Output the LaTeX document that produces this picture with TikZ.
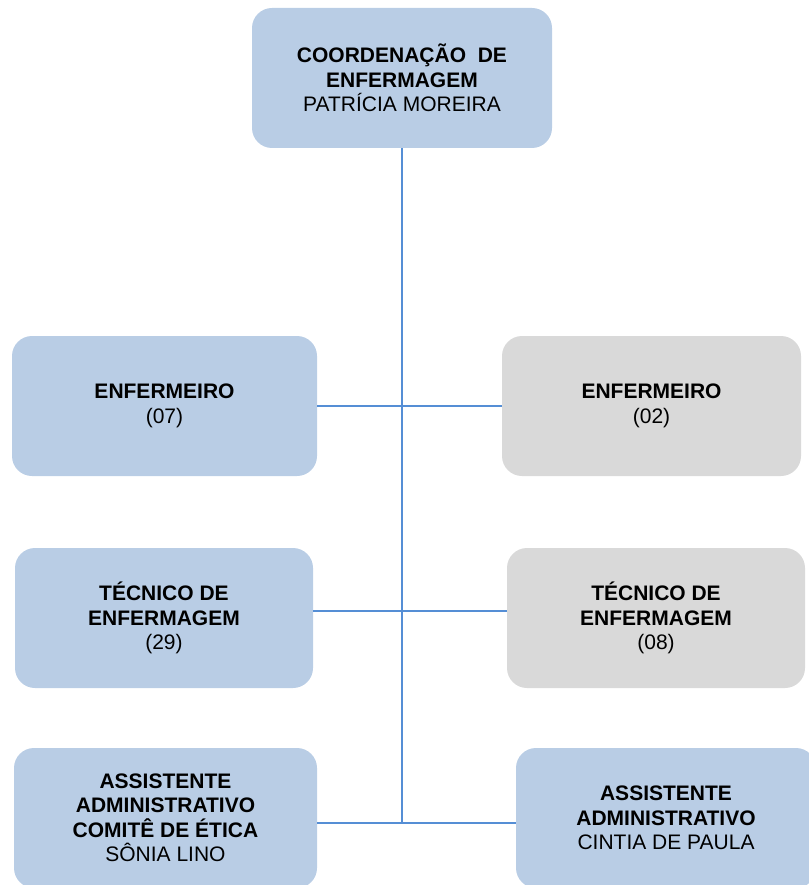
\documentclass[tikz,border=0pt]{standalone}
\usepackage{fontspec}
\setmainfont{Liberation Sans}
\definecolor{boxblue}{HTML}{B9CDE5}
\definecolor{boxgray}{HTML}{D9D9D9}
\definecolor{linkblue}{HTML}{558ED5}
\begin{document}
\begin{tikzpicture}[x=1pt,y=-1pt,
  orgbox/.style={rectangle, rounded corners=20pt, inner sep=0pt, align=center,
    minimum height=140pt, font=\fontsize{21}{24.5}\selectfont},
  bluebox/.style={orgbox, fill=boxblue},
  graybox/.style={orgbox, fill=boxgray},
  link/.style={draw=linkblue, line width=2pt}]
\useasboundingbox (0,0) rectangle (808,885);
\node[bluebox, minimum width=300pt] (top) at (402,78)
  {\textbf{COORDENAÇÃO\ \ DE}\\\textbf{ENFERMAGEM}\\PATRÍCIA MOREIRA};
\node[bluebox, minimum width=305pt] (l1) at (164.5,406) {\textbf{ENFERMEIRO}\\(07)};
\node[graybox, minimum width=299pt] (r1) at (651.5,406) {\textbf{ENFERMEIRO}\\(02)};
\node[bluebox, minimum width=298pt] (l2) at (164,618) {\textbf{TÉCNICO DE}\\\textbf{ENFERMAGEM}\\(29)};
\node[graybox, minimum width=298pt] (r2) at (656,618) {\textbf{TÉCNICO DE}\\\textbf{ENFERMAGEM}\\(08)};
\node[bluebox, minimum width=303pt] (l3) at (165.5,818)
  {\textbf{ASSISTENTE}\\\textbf{ADMINISTRATIVO}\\\textbf{COMITÊ DE ÉTICA}\\SÔNIA LINO};
\node[bluebox, minimum width=300pt] (r3) at (666,818)
  {\textbf{ASSISTENTE}\\\textbf{ADMINISTRATIVO}\\CINTIA DE PAULA};
\coordinate (j2) at (402,611);
\coordinate (j3) at (402,823);
\draw[link] (top.south) -- (j3);
\draw[link] (l1.east) -- (r1.west);
\draw[link] (l2.east |- j2) -- (r2.west |- j2);
\draw[link] (l3.east |- j3) -- (r3.west |- j3);
\end{tikzpicture}
\end{document}
